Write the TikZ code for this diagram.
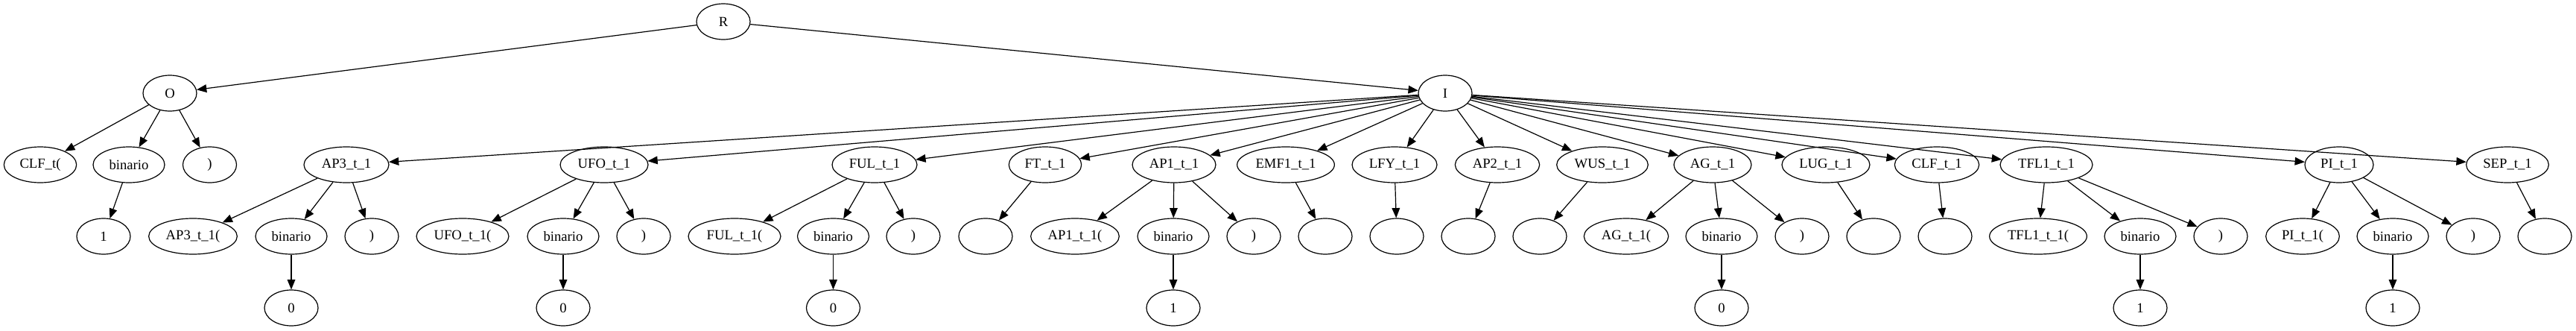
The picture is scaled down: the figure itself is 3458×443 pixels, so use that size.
\documentclass[tikz,border=0pt]{standalone}
\usepackage{fontspec}
\setmainfont{Liberation Serif}
\usetikzlibrary{arrows.meta,shapes.geometric}

\begin{document}
\begin{tikzpicture}[x=0.75pt,y=-0.75pt,>={Triangle[length=10pt,width=8pt]},
  tnode/.style={draw,ellipse,line width=0.9pt,inner sep=0pt,minimum height=36pt,
    minimum width=#1,font=\fontsize{14}{16}\selectfont},
  tnode/.default=54pt,
  edge/.style={->,line width=0.9pt}]
  \useasboundingbox (0,0) rectangle (3458,443);

  % Root and first level
  \node[tnode] (R) at (971,29) {R};
  \node[tnode] (O) at (228,125) {O};
  \node[tnode] (I) at (1940,125) {I};

  % Children of O
  \node[tnode=73pt] (clf0) at (54,221) {CLF\_t(};
  \node[tnode=72pt] (ob) at (173,221) {binario};
  \node[tnode] (oc) at (281.5,221) {)};
  \node[tnode] (obv) at (139,317) {1};

  % Children of I
  \node[tnode=85.5pt] (ap3) at (465,221) {AP3\_t\_1};
  \node[tnode=88.5pt] (ufo) at (811,221) {UFO\_t\_1};
  \node[tnode=85.5pt] (ful) at (1174,221) {FUL\_t\_1};
  \node[tnode=73pt] (ft) at (1403,221) {FT\_t\_1};
  \node[tnode=84pt] (ap1) at (1576,221) {AP1\_t\_1};
  \node[tnode=98pt] (emf) at (1726,221) {EMF1\_t\_1};
  \node[tnode=85.5pt] (lfy) at (1872,221) {LFY\_t\_1};
  \node[tnode=85pt] (ap2) at (2010,221) {AP2\_t\_1};
  \node[tnode=92pt] (wus) at (2151,221) {WUS\_t\_1};
  \node[tnode=78pt] (ag) at (2299,221) {AG\_t\_1};
  \node[tnode=88.5pt] (lug) at (2451,221) {LUG\_t\_1};
  \node[tnode=85pt] (clf) at (2600,221) {CLF\_t\_1};
  \node[tnode=93pt] (tfl) at (2747,221) {TFL1\_t\_1};
  \node[tnode=69pt] (pi) at (3140,221) {PI\_t\_1};
  \node[tnode=83pt] (sep) at (3366,221) {SEP\_t\_1};

  % Third level
  \node[tnode=89pt] (ap3a) at (259,317) {AP3\_t\_1(};
  \node[tnode=72pt] (ap3b) at (391,317) {binario};
  \node[tnode] (ap3c) at (499,317) {)};
  \node[tnode=93pt] (ufoa) at (621,317) {UFO\_t\_1(};
  \node[tnode=72pt] (ufob) at (756,317) {binario};
  \node[tnode] (ufoc) at (864,317) {)};
  \node[tnode=93pt] (fula) at (986,317) {FUL\_t\_1(};
  \node[tnode=72pt] (fulb) at (1118.5,317) {binario};
  \node[tnode] (fulc) at (1226,317) {)};
  \node[tnode] (fta) at (1323,317) {};
  \node[tnode=89pt] (ap1a) at (1443,317) {AP1\_t\_1(};
  \node[tnode=72pt] (ap1b) at (1575,317) {binario};
  \node[tnode] (ap1c) at (1683,317) {)};
  \node[tnode] (emfa) at (1779,317) {};
  \node[tnode] (lfya) at (1875,317) {};
  \node[tnode] (ap2a) at (1971,317) {};
  \node[tnode] (wusa) at (2067,317) {};
  \node[tnode=85pt] (aga) at (2183,317) {AG\_t\_1(};
  \node[tnode=72pt] (agb) at (2311,317) {binario};
  \node[tnode] (agc) at (2419,317) {)};
  \node[tnode] (luga) at (2515,317) {};
  \node[tnode] (clfa) at (2611,317) {};
  \node[tnode=98pt] (tfla) at (2736,317) {TFL1\_t\_1(};
  \node[tnode=72pt] (tflb) at (2873,317) {binario};
  \node[tnode] (tflc) at (2981,317) {)};
  \node[tnode=74pt] (pia) at (3091,317) {PI\_t\_1(};
  \node[tnode=72pt] (pib) at (3212,317) {binario};
  \node[tnode] (pic) at (3320,317) {)};
  \node[tnode] (sepa) at (3416,317) {};

  % Values of binario
  \node[tnode] (ap3v) at (391,413) {0};
  \node[tnode] (ufov) at (756,413) {0};
  \node[tnode] (fulv) at (1118.5,413) {0};
  \node[tnode] (ap1v) at (1575,413) {1};
  \node[tnode] (agv) at (2311,413) {0};
  \node[tnode] (tflv) at (2873,413) {1};
  \node[tnode] (piv) at (3212,413) {1};

  % Edges
  \foreach \a/\b in {R/O,R/I,O/clf0,O/ob,O/oc,ob/obv,
      I/ap3,I/ufo,I/ful,I/ft,I/ap1,I/emf,I/lfy,I/ap2,I/wus,I/ag,I/lug,I/clf,I/tfl,I/pi,I/sep,
      ap3/ap3a,ap3/ap3b,ap3/ap3c,ap3b/ap3v,
      ufo/ufoa,ufo/ufob,ufo/ufoc,ufob/ufov,
      ful/fula,ful/fulb,ful/fulc,fulb/fulv,
      ft/fta,
      ap1/ap1a,ap1/ap1b,ap1/ap1c,ap1b/ap1v,
      emf/emfa,lfy/lfya,ap2/ap2a,wus/wusa,
      ag/aga,ag/agb,ag/agc,agb/agv,
      lug/luga,clf/clfa,
      tfl/tfla,tfl/tflb,tfl/tflc,tflb/tflv,
      pi/pia,pi/pib,pi/pic,pib/piv,
      sep/sepa}
    \draw[edge] (\a) -- (\b);
\end{tikzpicture}
\end{document}
